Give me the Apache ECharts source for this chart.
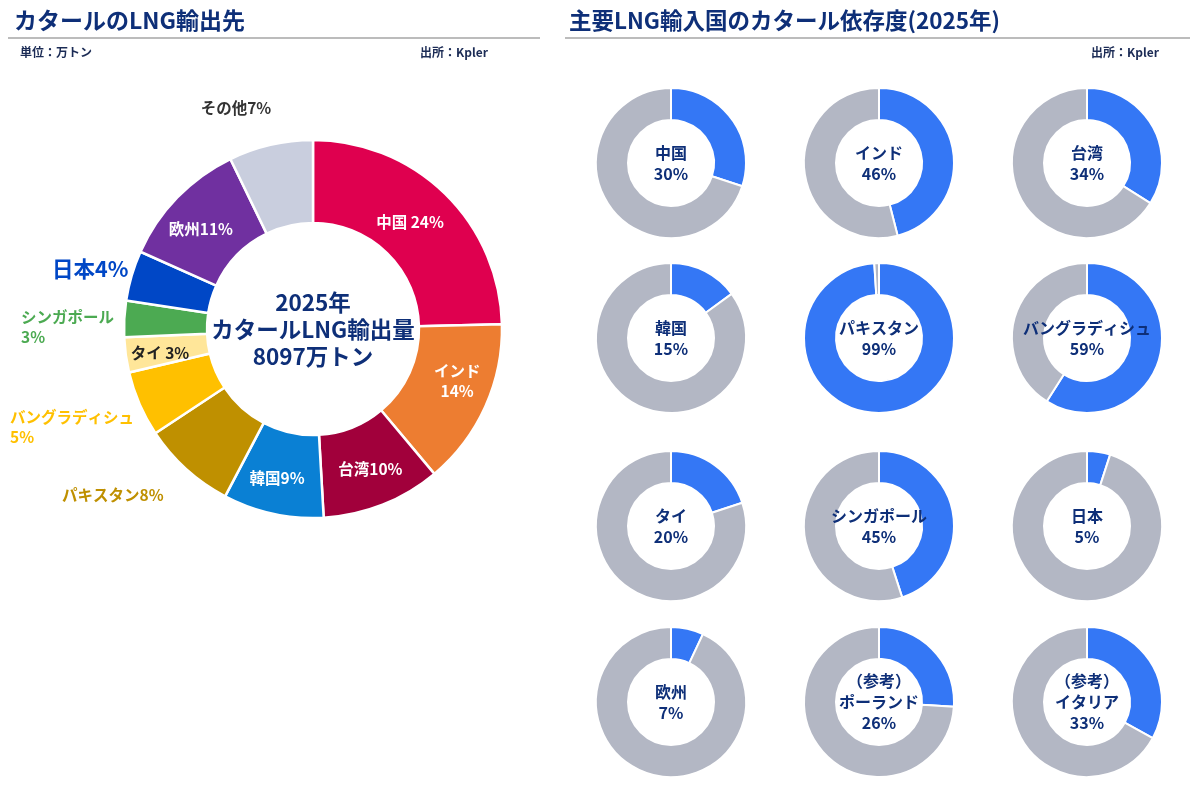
<!DOCTYPE html>
<html><head><meta charset="utf-8">
<script src="https://cdn.jsdelivr.net/npm/echarts@6/dist/echarts.min.js"></script>
<style>html,body{margin:0;padding:0;background:#fff}#c{width:1200px;height:802px}</style>
</head><body><div id="c"></div>
<script>
// Main donut: Qatar LNG export destinations (share, %)
const exportNames = ['中国','インド','台湾','韓国','パキスタン','バングラディシュ','タイ','シンガポール','日本','欧州','その他'];
const exportShares = [24.6, 14.3, 10.2, 8.6, 8.0, 5.6, 3.0, 3.1, 4.3, 11.1, 7.2];
const exportLabels = ['中国 24%','インド\n14%','台湾10%','韓国9%','パキスタン8%','バングラディシュ\n5%','タイ 3%','シンガポール\n3%','日本4%','欧州11%','その他7%'];
const exportColors = ['#df004f','#ed7d31','#a1003b','#0a80d4','#bf9000','#ffc000','#ffe699','#4caa52','#0047c6','#7030a0','#c9cede'];
const centerText = '2025年\nカタールLNG輸出量\n8097万トン';

// Small donuts: dependence on Qatar (%)
const depNames = ['中国','インド','台湾','韓国','パキスタン','バングラディシュ','タイ','シンガポール','日本','欧州','（参考）\nポーランド','（参考）\nイタリア'];
const depValues = [30, 46, 34, 15, 99, 59, 20, 45, 5, 7, 26, 33];

const FONT = '"Noto Sans CJK JP", "Noto Sans", sans-serif';
const NAVY = '#0e2f78';

const chart = echarts.init(document.getElementById('c'), null, {renderer:'canvas'});

// custom label placements for main donut
const outsidePos = {
  4: {x: 62, y: 495, align: 'left'},
  5: {x: 10, y: 427, align: 'left'},
  7: {x: 21, y: 327, align: 'left'},
  8: {x: 52, y: 269, align: 'left'},
  10: {x: 236, y: 108, align: 'center'}
};
const insideShift = {0:[-8,1], 1:[7,-10], 2:[2,0], 3:[-4,2], 6:[-4,3], 9:[-4,5]};
const labelStyles = {
  0: {color:'#fff', fontSize:15.5},
  1: {color:'#fff', fontSize:15.5},
  2: {color:'#fff', fontSize:15.5},
  3: {color:'#fff', fontSize:15.5},
  4: {color:'#bf9000', fontSize:15.5},
  5: {color:'#ffc000', fontSize:15.5},
  6: {color:'#222', fontSize:15.5},
  7: {color:'#4caa52', fontSize:15.5},
  8: {color:'#0047c6', fontSize:21.5},
  9: {color:'#fff', fontSize:15.5},
  10: {color:'#333', fontSize:15.5}
};

const mainData = exportNames.map((n,i)=>({
  name: n, value: exportShares[i],
  itemStyle:{color: exportColors[i]},
  label:{
    show:true,
    position: outsidePos[i] ? 'outside' : 'inside',
    formatter: exportLabels[i],
    color: labelStyles[i].color,
    fontSize: labelStyles[i].fontSize,
    fontWeight: 'bold',
    fontFamily: FONT,
    lineHeight: 20,
    align: 'left'
  },
  labelLine:{show:false}
}));

const series = [{
  type:'pie',
  center:[313, 329],
  radius:[106, 189],
  startAngle: 90,
  clockwise: true,
  avoidLabelOverlap:false,
  silent:true,
  itemStyle:{borderColor:'#fff', borderWidth:2.5},
  data: mainData,
  labelLayout: function(p){
    const o = outsidePos[p.dataIndex];
    if(o){ return {x:o.x, y:o.y, align:o.align, verticalAlign:'middle'}; }
    const s = insideShift[p.dataIndex] || [0,0];
    return {x: p.labelRect.x + p.labelRect.width/2 + s[0], y: p.labelRect.y + p.labelRect.height/2 + s[1], align:'center', verticalAlign:'middle'};
  }
}];

const colX = [671, 879, 1087];
const rowY = [163, 338, 526, 702];
depNames.forEach((n,i)=>{
  const cx = colX[i%3], cy = rowY[Math.floor(i/3)];
  series.push({
    type:'pie',
    center:[cx, cy],
    radius:[43, 75],
    startAngle:90,
    clockwise:true,
    silent:true,
    avoidLabelOverlap:false,
    itemStyle:{borderColor:'#fff', borderWidth:2},
    label:{show:false},
    labelLine:{show:false},
    data:[
      {name:n, value:depValues[i], itemStyle:{color:'#3477f5'},
        label:{show:true, position:'center', formatter: n + '\n' + depValues[i] + '%',
          color:NAVY, fontSize:16, fontWeight:'bold', fontFamily:FONT, lineHeight:21}},
      {name:'その他', value:100-depValues[i], itemStyle:{color:'#b3b7c4'}}
    ]
  });
});

chart.setOption({
  animation:false,
  backgroundColor:'#fff',
  graphic:[
    {type:'text', left:14, top:9, style:{text:'カタールのLNG輸出先', font:'bold 23px '+FONT, fill:NAVY}},
    {type:'line', shape:{x1:8, y1:38, x2:540, y2:38}, style:{stroke:'#a6a6a6', lineWidth:1.5}},
    {type:'text', left:20, top:46, style:{text:'単位：万トン', font:'bold 12px '+FONT, fill:'#1b2b55'}},
    {type:'text', left:420, top:46, style:{text:'出所：Kpler', font:'bold 12px '+FONT, fill:'#1b2b55'}},
    {type:'text', left:569, top:9, style:{text:'主要LNG輸入国のカタール依存度(2025年)', font:'bold 22.5px '+FONT, fill:NAVY}},
    {type:'line', shape:{x1:565, y1:38, x2:1190, y2:38}, style:{stroke:'#a6a6a6', lineWidth:1.5}},
    {type:'text', left:1091, top:46, style:{text:'出所：Kpler', font:'bold 12px '+FONT, fill:'#1b2b55'}},
    {type:'text', x:313, y:329, style:{text:centerText, font:'bold 22.5px '+FONT, fill:NAVY, align:'center', verticalAlign:'middle', lineHeight:27}}
  ],
  series: series
});
</script>
</body></html>
